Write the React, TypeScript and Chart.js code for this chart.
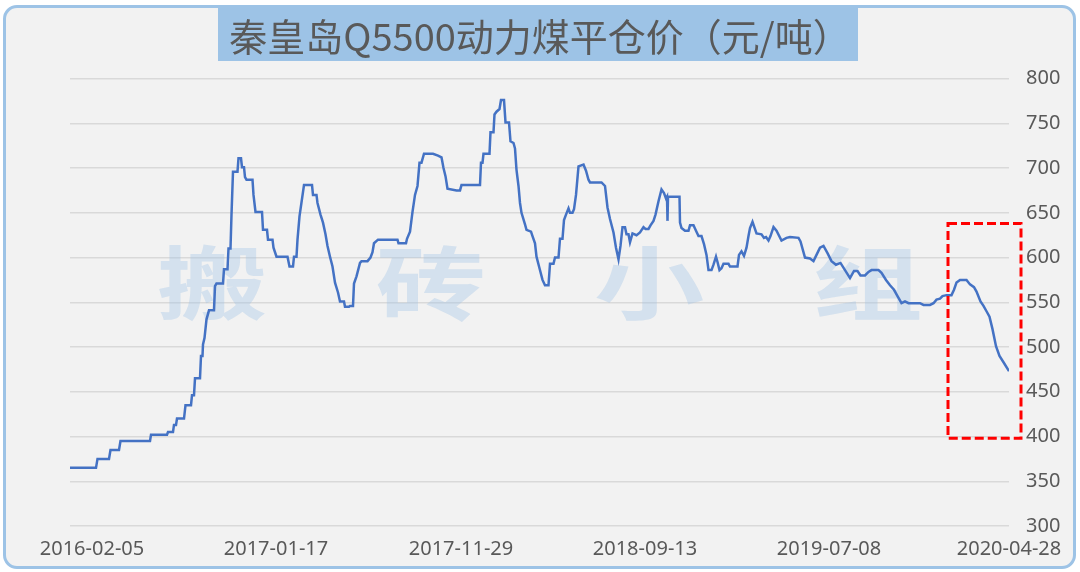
import { useEffect, useRef } from 'react';
import { Chart, registerables } from 'chart.js';

Chart.register(...registerables);

const titleText = '秦皇岛Q5500动力煤平仓价（元/吨）';

const xTickIndex = [22, 206, 391, 575, 759, 939];
const xTickLabels = ['2016-02-05', '2017-01-17', '2017-11-29', '2018-09-13', '2019-07-08', '2020-04-28'];

const yMin = 300;
const yMax = 800;
const yStep = 50;

const dayIndex = [
  0, 26, 27.5, 39, 40.5, 49, 50.5, 80, 81, 97, 98, 103, 104, 106, 107, 114, 115.5, 121, 122, 124,
  125, 130, 131, 132.5, 133, 134.5, 136.5, 139, 144, 145, 146.5, 153, 154, 157.5, 158.5, 160.5, 161.5, 163, 167.5, 168.5,
  171, 172, 174, 175, 176.5, 182.5, 183.5, 185.5, 192, 193, 197, 198, 202.5, 203.5, 206.5, 217.5, 219.5, 223, 224, 226.5,
  227.5, 229.5, 234, 242, 243, 246.5, 247.5, 250.5, 253, 255.5, 257.5, 260, 262.5, 265, 268, 270, 274, 275, 279, 280,
  283, 284, 286.5, 290, 291.5, 297.5, 300.5, 302.5, 304, 308, 327.5, 328.5, 336, 337, 340, 342.5, 345, 347.5, 349.5, 351.5,
  354, 363, 368, 371.5, 373.5, 375.5, 377.5, 386.5, 390, 391.5, 410, 411, 412.5, 413.5, 419.5, 420.5, 423.5, 424.5, 426.5, 429.5,
  431, 434, 435.5, 439, 440.5, 443.5, 445, 446.5, 448.5, 450, 451.5, 455, 456.5, 461, 462.5, 465, 466.5, 469.5, 472.5, 475,
  478.5, 480, 483.5, 485, 488.5, 490, 492.5, 494, 496, 498.5, 500, 502.5, 504, 506, 508.5, 513.5, 516, 518.5, 520, 531.5,
  535, 537.5, 540, 543.5, 546, 548.5, 550.5, 552.5, 555, 556.5, 558.5, 560, 562.5, 566.5, 570, 573.5, 575.5, 578.5, 580.5, 583.5,
  585.5, 588.5, 591.5, 594, 596, 597, 597.5, 598, 609.5, 610, 611.5, 615, 618.5, 620, 623.5, 626, 628.5, 631.5, 634, 636.5,
  638.5, 641.5, 643.5, 646, 647.5, 649.5, 651.5, 653.5, 658.5, 660, 667.5, 669, 671.5, 674, 676.5, 678.5, 680, 682.5, 686.5, 691.5,
  694, 696, 698.5, 700.5, 703.5, 706.5, 711.5, 716.5, 720, 728.5, 730.5, 735, 740, 743.5, 746.5, 750, 753.5, 757.5, 761.5, 766,
  770.5, 775, 780, 784, 787.5, 790.5, 795, 798.5, 801.5, 808.5, 811.5, 816, 820, 824, 827.5, 831.5, 835, 838.5, 850, 853.5,
  860, 863.5, 866.5, 870, 872.5, 876.5, 881.5, 884, 886.5, 890, 896.5, 900, 904, 906.5, 910.5, 913.5, 916.5, 919.5, 922.5, 926,
  929.5, 933.5, 939,
];

const price = [
  365, 365, 375, 375, 385, 385, 395, 395, 402, 402, 405, 405, 413, 413, 420, 420, 435, 435, 446, 446,
  465, 465, 490, 490, 503, 510, 531, 541, 541, 568, 571, 571, 587, 587, 610, 610, 648, 696, 696, 711,
  711, 701, 701, 690, 687, 687, 670, 651, 651, 631, 631, 620, 620, 611, 601, 601, 590, 590, 601, 601,
  620, 646, 681, 681, 670, 670, 661, 648, 639, 626, 613, 601, 590, 572, 561, 551, 551, 545, 545, 546,
  546, 571, 579, 594, 596, 596, 600, 606, 616, 620, 620, 616, 616, 621, 629, 651, 670, 680, 706, 706,
  716, 716, 714, 712, 700, 691, 677, 675, 675, 681, 681, 706, 706, 716, 716, 740, 740, 760, 763, 766,
  776, 776, 751, 751, 730, 728, 722, 698, 680, 661, 650, 637, 631, 629, 624, 616, 601, 588, 575, 569,
  569, 593, 593, 600, 600, 621, 621, 642, 648, 655, 650, 650, 654, 670, 702, 704, 697, 687, 684, 684,
  680, 656, 643, 628, 611, 598, 613, 634, 634, 626, 626, 617, 627, 625, 628, 634, 632, 632, 636, 641,
  648, 663, 676, 672, 666, 668, 641, 668, 668, 639, 633, 630, 630, 636, 636, 630, 624, 624, 615, 603,
  586, 586, 592, 601, 595, 586, 588, 593, 593, 590, 590, 603, 607, 602, 611, 624, 633, 640, 627, 626,
  622, 623, 619, 624, 634, 630, 619, 622, 623, 622, 618, 600, 599, 596, 603, 611, 613, 605, 596, 592,
  594, 586, 577, 585, 585, 580, 580, 584, 586, 586, 583, 575, 569, 564, 557, 549, 551, 549, 549, 547,
  547, 549, 553, 554, 557, 558, 558, 564, 572, 575, 575, 570, 567, 562, 551, 546, 540, 534, 520, 501,
  490, 483, 473,
];

const highlightIndex = [878, 951];
const highlightPrice = [398, 638];

const watermarkChars = ['搬', '砖', '小', '组'];

const tickFont = { family: '"Noto Sans", "DejaVu Sans", sans-serif', size: 20 };

const titleBoxPlugin = {
  id: 'titleBox',
  beforeDraw(chart: any) {
    const ctx = chart.ctx;
    ctx.save();
    ctx.fillStyle = '#9dc3e6';
    ctx.fillRect(chart.width / 2 - 322, 8, 640, 53);
    ctx.restore();
  },
};

const watermarkPlugin = {
  id: 'watermark',
  beforeDatasetsDraw(chart: any) {
    const ctx = chart.ctx;
    const area = chart.chartArea;
    const cy = area.top + (area.bottom - area.top) * 0.457;
    ctx.save();
    ctx.font = 'bold 80px "Noto Sans CJK SC"';
    ctx.fillStyle = 'rgba(157, 195, 230, 0.36)';
    ctx.textAlign = 'center';
    ctx.textBaseline = 'middle';
    watermarkChars.forEach((ch, k) => {
      const cx = chart.width / 2 + (k - 1.5) * 218.5;
      ctx.save();
      ctx.translate(cx, cy);
      ctx.scale(1.38, 1);
      ctx.fillText(ch, 0, 0);
      ctx.restore();
    });
    ctx.restore();
  },
};

const highlightPlugin = {
  id: 'highlight',
  afterDatasetsDraw(chart: any) {
    const ctx = chart.ctx;
    const xs = chart.scales.x;
    const ys = chart.scales.y;
    const x1 = xs.getPixelForValue(highlightIndex[0]);
    const x2 = xs.getPixelForValue(highlightIndex[1]);
    const y1 = ys.getPixelForValue(highlightPrice[1]);
    const y2 = ys.getPixelForValue(highlightPrice[0]);
    ctx.save();
    ctx.strokeStyle = '#ff0000';
    ctx.lineWidth = 3;
    ctx.setLineDash([9, 4]);
    ctx.strokeRect(x1, y1, x2 - x1, y2 - y1);
    ctx.restore();
  },
};

export default function App() {
  const canvasRef = useRef<HTMLCanvasElement | null>(null);

  useEffect(() => {
    const canvas = canvasRef.current;
    if (!canvas) return;
    const chart = new Chart(canvas, {
      type: 'line',
      data: {
        datasets: [
          {
            data: dayIndex.map((d, i) => ({ x: d, y: price[i] })),
            xAxisID: 'x',
            yAxisID: 'y',
            borderColor: '#4472c4',
            borderWidth: 2.5,
            pointRadius: 0,
            tension: 0,
            fill: false,
          },
        ],
      },
      options: {
        responsive: false,
        animation: false,
        layout: { padding: { left: 0, right: 0, top: 0, bottom: 11 } },
        plugins: {
          legend: { display: false },
          tooltip: { enabled: false },
          title: {
            display: true,
            text: titleText,
            color: '#595959',
            font: { family: '"Noto Sans CJK SC"', size: 38, weight: 'normal', lineHeight: 1.2 },
            padding: { top: 14, bottom: 19 },
          },
        },
        scales: {
          x: {
            type: 'linear',
            min: 0,
            max: 939,
            grid: { display: false, drawTicks: false },
            border: { display: false },
            afterBuildTicks: (axis: any) => {
              axis.ticks = xTickIndex.map((v) => ({ value: v }));
            },
            afterFit: (axis: any) => {
              axis.height = 35;
              axis.paddingLeft = 0;
              axis.paddingRight = 0;
            },
            ticks: {
              autoSkip: false,
              maxRotation: 0,
              padding: 11,
              color: '#595959',
              font: tickFont,
              callback: (_v: any, i: number) => xTickLabels[i],
            },
          },
          y: {
            type: 'linear',
            position: 'right',
            min: yMin,
            max: yMax,
            ticks: { stepSize: yStep, padding: 17, color: '#595959', font: tickFont },
            grid: { color: '#d9d9d9', lineWidth: 1.5, drawTicks: false },
            border: { display: false },
            afterFit: (axis: any) => {
              axis.width = 71;
              axis.paddingTop = 0;
              axis.paddingBottom = 0;
            },
          },
          yLeft: {
            type: 'linear',
            position: 'left',
            display: true,
            min: yMin,
            max: yMax,
            grid: { display: false, drawTicks: false },
            border: { display: false },
            ticks: { display: false },
            afterFit: (axis: any) => {
              axis.width = 70;
              axis.paddingTop = 0;
              axis.paddingBottom = 0;
            },
          },
        },
      } as any,
      plugins: [titleBoxPlugin, watermarkPlugin, highlightPlugin],
    });
    return () => chart.destroy();
  }, []);

  return (
    <div style={{ position: 'fixed', left: 0, top: 0, width: 1080, height: 572, background: '#ffffff' }}>
      <div
        style={{
          position: 'absolute',
          left: 3,
          top: 5,
          width: 1073,
          height: 564,
          boxSizing: 'border-box',
          border: '3px solid #9dc3e6',
          borderRadius: 14,
          background: '#f2f2f2',
        }}
      />
      <canvas ref={canvasRef} width={1080} height={572} style={{ position: 'absolute', left: 0, top: 0 }} />
    </div>
  );
}
